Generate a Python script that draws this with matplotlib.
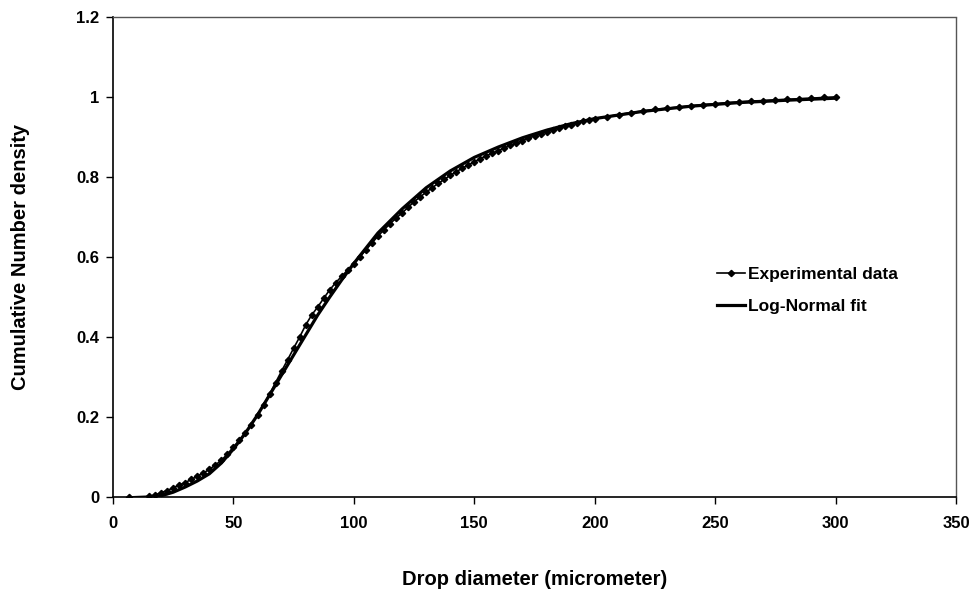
import matplotlib
matplotlib.use("Agg")
import matplotlib.pyplot as plt

plt.rcParams['font.family'] = ['Liberation Sans', 'DejaVu Sans']

exp_x = [6.5, 15, 17.5, 20, 22.5, 25, 27.5, 30, 32.5, 35, 37.5, 40, 42.5, 45, 47.5, 50,
         52.5, 55, 57.5, 60, 62.5, 65, 67.5, 70, 72.5, 75, 77.5, 80, 82.5, 85, 87.5, 90,
         92.5, 95, 97.5, 100, 102.5, 105, 107.5, 110, 112.5, 115, 117.5, 120, 122.5, 125,
         127.5, 130, 132.5, 135, 137.5, 140, 142.5, 145, 147.5, 150, 152.5, 155, 157.5,
         160, 162.5, 165, 167.5, 170, 172.5, 175, 177.5, 180, 182.5, 185, 187.5, 190,
         192.5, 195, 197.5, 200, 205, 210, 215, 220, 225, 230, 235, 240, 245, 250,
         255, 260, 265, 270, 275, 280, 285, 290, 295, 300]
exp_y = [0.0, 0.002, 0.005, 0.011, 0.016, 0.023, 0.030, 0.036, 0.044, 0.052, 0.060, 0.069,
         0.080, 0.092, 0.107, 0.125, 0.142, 0.160, 0.181, 0.205, 0.231, 0.257, 0.286, 0.315,
         0.343, 0.372, 0.400, 0.430, 0.455, 0.475, 0.497, 0.518, 0.536, 0.552, 0.568, 0.583,
         0.600, 0.618, 0.635, 0.652, 0.668, 0.683, 0.697, 0.710, 0.724, 0.738, 0.750, 0.762,
         0.773, 0.784, 0.794, 0.804, 0.813, 0.822, 0.830, 0.838, 0.846, 0.853, 0.860,
         0.866, 0.873, 0.879, 0.885, 0.891, 0.897, 0.903, 0.908, 0.913, 0.918, 0.922, 0.927,
         0.931, 0.935, 0.939, 0.943, 0.946, 0.951, 0.956, 0.961, 0.965, 0.969, 0.972,
         0.975, 0.978, 0.981, 0.983, 0.986, 0.988, 0.990, 0.991, 0.993, 0.994, 0.996, 0.997,
         0.999, 1.0]

fit_x = [17.5, 20, 25, 30, 35, 40, 45, 50, 55, 60, 65, 70, 75, 80, 85, 90, 95, 100, 110,
         120, 130, 140, 150, 160, 170, 180, 190, 200, 220, 240, 260, 280, 300]
fit_y = [0.0, 0.003, 0.012, 0.025, 0.04, 0.058, 0.085, 0.12, 0.16, 0.205, 0.255, 0.305,
         0.355, 0.405, 0.455, 0.5, 0.543, 0.584, 0.66, 0.72, 0.773, 0.815, 0.849, 0.875,
         0.898, 0.917, 0.933, 0.946, 0.964, 0.977, 0.986, 0.992, 0.997]

x_ticks = [0, 50, 100, 150, 200, 250, 300, 350]
y_ticks = [0, 0.2, 0.4, 0.6, 0.8, 1, 1.2]
y_labels = ['0', '0.2', '0.4', '0.6', '0.8', '1', '1.2']

fig = plt.figure(figsize=(9.76, 5.96), dpi=100)
ax = fig.add_axes([113/976, 99/596, (956-113)/976, (497-17)/596])

ax.plot(exp_x, exp_y, color='black', lw=1.2, marker='D', ms=3.2,
        label='Experimental data')
ax.plot(fit_x, fit_y, color='black', lw=2.3, label='Log-Normal fit')

ax.set_xlim(0, 350)
ax.set_ylim(0, 1.2)
ax.set_xticks(x_ticks)
ax.set_yticks(y_ticks)
ax.set_yticklabels(y_labels)
ax.tick_params(axis='x', direction='out', length=5, width=1, labelsize=12, pad=9)
ax.tick_params(axis='y', direction='out', length=5, width=1, labelsize=12, pad=5)
for lab in ax.get_xticklabels() + ax.get_yticklabels():
    lab.set_fontweight('bold')

for s in ['left', 'bottom']:
    ax.spines[s].set_color('black')
    ax.spines[s].set_linewidth(1.2)
for s in ['top', 'right']:
    ax.spines[s].set_color('#555555')
    ax.spines[s].set_linestyle((0, (1, 1)))
    ax.spines[s].set_linewidth(1.0)

ax.set_xlabel('Drop diameter (micrometer)', fontsize=14.5, fontweight='bold')
ax.set_ylabel('Cumulative Number density', fontsize=14.5, fontweight='bold')
ax.xaxis.set_label_coords(0.5, -0.152)
ax.yaxis.set_label_coords(-0.098, 0.5)

leg = ax.legend(loc='upper left', bbox_to_anchor=(0.7165, 0.48), frameon=False,
                prop={'weight': 'bold', 'size': 12.5}, handlelength=1.6,
                handletextpad=0.2, labelspacing=1.0, borderpad=0, borderaxespad=0)

fig.savefig('out.png', dpi=100)
